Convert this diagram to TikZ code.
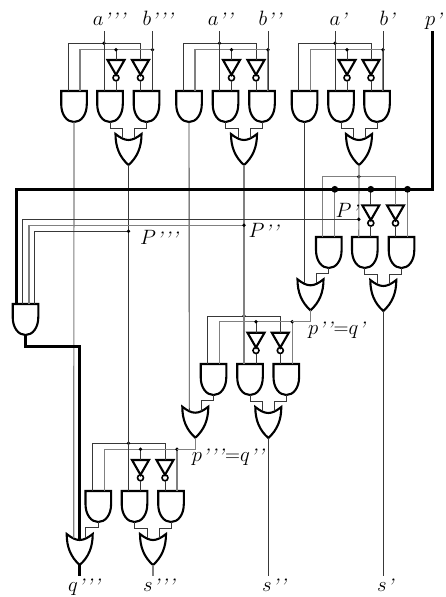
\documentclass[tikz,border=0pt]{standalone}
\usetikzlibrary{calc}
\newcommand{\pr}{\raisebox{-2.2pt}{\textit{'}}}
\tikzset{
  x=1pt,y=-1pt,
  wire/.style={draw=black!78,line width=0.9pt},
  wirel/.style={draw=black!50,line width=1.15pt},
  upw/.style={wire},
  buswire/.style={draw=black,line width=3pt,line join=miter},
  gateline/.style={draw=black,line width=2.1pt,line join=miter},
  jdot/.style={fill=black},
  lab/.style={anchor=base west,inner sep=0pt,font=\fontsize{21}{21}\selectfont},
  andg/.pic={
    \draw[gateline] (-12.8,0) -- (12.8,0) -- (12.8,13) .. controls (12.8,24) and (7,31) .. (0,31) .. controls (-7,31) and (-12.8,24) .. (-12.8,13) -- cycle;
    \coordinate (-l) at (-6,0);
    \coordinate (-r) at (6,0);
    \coordinate (-o) at (0,31);
    \coordinate (-p1) at (-8.8,0);
    \coordinate (-p2) at (-3.2,0);
    \coordinate (-p3) at (3.5,0);
    \coordinate (-p4) at (8.8,0);
  },
  org/.pic={
    \draw[gateline] (-13,0) .. controls (-8,4) and (-4,6) .. (0,6) .. controls (4,6) and (8,4) .. (13,0) .. controls (13,13) and (9,23) .. (0,31) .. controls (-9,23) and (-13,13) .. (-13,0) -- cycle;
    \coordinate (-l) at (-6,4);
    \coordinate (-r) at (6,4);
    \coordinate (-c) at (0,6);
    \coordinate (-o) at (0,31);
  },
  invg/.pic={
    \draw[gateline] (-8.5,0) -- (8.5,0) -- (0,14.8) -- cycle;
    \draw[draw=black,line width=1.6pt] (0,17.8) circle[radius=3];
    \coordinate (-t) at (0,0);
    \coordinate (-o) at (0,20.8);
  }
}
% name, and centres (3), or centre, upper bus y, lower bus y, inverter y, and y
\newcommand{\stage}[9]{
  \coordinate (#1u) at (0,#6);
  \coordinate (#1w) at (0,#7);
  \coordinate (#1y) at (0,#8);
  \pic (#1a) at (#2,#9) {andg};
  \pic (#1b) at (#3,#9) {andg};
  \pic (#1c) at (#4,#9) {andg};
  \pic (#1o) at ($(#5,#9)+(0,43)$) {org};
  \pic (#1i) at (#1b-r |- #1y) {invg};
  \pic (#1j) at (#1c-l |- #1y) {invg};
  \draw[upw] (#1a-l) |- (#1c-l |- #1u) -- (#1j-t);
  \draw[wirel] (#1a-r) |- (#1c-r |- #1w) -- (#1c-r);
  \draw[wire] (#1b-r |- #1w) -- (#1i-t);
  \draw[wire] (#1i-o) -- (#1b-r);
  \draw[wire] (#1j-o) -- (#1c-l);
  \draw[wire] (#1b-o) -- ++(0,6) -| (#1o-l);
  \draw[wire] (#1c-o) -- ++(0,6) -| (#1o-r);
  \fill[jdot] (#1b-l |- #1u) circle[radius=1.9];
  \fill[jdot] (#1b-r |- #1w) circle[radius=1.9];
  \fill[jdot] (#1c-r |- #1w) circle[radius=1.9];
}
\begin{document}
\begin{tikzpicture}
\useasboundingbox (0,0) rectangle (446,597);
\coordinate (top) at (0,31);
\coordinate (bot) at (0,576);
\coordinate (py1) at (0,219.3);
\coordinate (py2) at (0,225.3);
\coordinate (py3) at (0,231.3);
\coordinate (pin) at (432.3,31);
% stages
\stage{tc}{74}{110}{146.5}{128.5}{43.3}{49.7}{60}{91}
\stage{tb}{189}{225.5}{262}{244}{43.3}{49.7}{60}{91}
\stage{ta}{304.5}{341}{377}{359}{43.3}{49.7}{60}{91}
\begin{scope}[upw/.style={wirel}]
\stage{sa}{328.8}{364.8}{401.5}{383.3}{176.7}{189.3}{205.3}{237}
\end{scope}
\stage{sb}{213.5}{250}{286.3}{268.3}{316}{321.7}{332.7}{364}
\stage{sc}{98.3}{134.5}{171}{153}{443.3}{449.3}{460}{491}
% carry gates
\pic (ca) at (310.5,279.3) {org};
\pic (cb) at (195.3,406.7) {org};
\pic (cc) at (79.7,534) {org};
\pic (g) at (25.5,304) {andg};
% inputs of the top stages
\draw[wire] (tcb-l |- top) -- (tcb-l);
\draw[wire] (tcc-r |- top) -- (tcc-r);
\draw[wire] (tbb-l |- top) -- (tbb-l);
\draw[wire] (tbc-r |- top) -- (tbc-r);
\draw[wire] (tab-l |- top) -- (tab-l);
\draw[wire] (tac-r |- top) -- (tac-r);
% sum outputs of top stages into lower stages
\draw[wire] (tco-o) -- (scb-l);
\draw[wirel] (tbo-o) -- (sbb-l);
\draw[wirel] (tao-o) -- (sab-l);
% first AND outputs
\draw[wirel] (tca-o) -- (cc-l);
\draw[wire] (tba-o) -- (cb-l);
\draw[wire] (taa-o) -- (ca-l);
% lower stage first AND to carry OR
\draw[wire] (saa-o) -- ++(0,5.5) -| (ca-r);
\draw[wire] (sba-o) -- ++(0,5.5) -| (cb-r);
\draw[wire] (sca-o) -- ++(0,5.5) -| (cc-r);
% carry OR outputs into next stage
\draw[wirel] (ca-o) |- (sbc-r |- sbw);
\draw[wirel] (cb-o) |- (scc-r |- scw);
% final sums
\draw[wire] (sao-o) -- (sao-o |- bot);
\draw[wire] (sbo-o) -- (sbo-o |- bot);
\draw[wirel] (sco-o) -- (sco-o |- bot);
% P lines
\draw[wire] (g-p2) |- (sab-l |- py1);
\draw[wirel] (g-p3) |- (tbo-o |- py2);
\draw[wire] (g-p4) |- (tco-o |- py3);
\fill[jdot] (sab-l |- py1) circle[radius=1.9];
\fill[jdot] (tbo-o |- py2) circle[radius=1.9];
\fill[jdot] (tco-o |- py3) circle[radius=1.9];
% thick carry bus
\draw[buswire] (pin) |- (g-p1 |- saw) -- (g-p1);
\draw[buswire] (g-o) -- ++(0,11.5) -| (cc-c);
\draw[buswire] (cc-o) -- (cc-o |- bot);
\fill[jdot] (saa-r |- saw) circle[radius=3.4];
\fill[jdot] (sab-r |- saw) circle[radius=3.4];
\fill[jdot] (sac-r |- saw) circle[radius=3.4];
% labels
\node[lab] (la3) at (92.7,25.7) {$a$\pr\pr\pr};
\node[lab] (lb3) at (142.3,25.7) {$b$\pr\pr\pr};
\node[lab] (la2) at (207.7,25.7) {$a$\pr\pr};
\node[lab] (lb2) at (258.3,25.7) {$b$\pr\pr};
\node[lab] (la1) at (329.3,25.7) {$a$\pr};
\node[lab] (lb1) at (379.3,25.7) {$b$\pr};
\node[lab] (lp1) at (425,25.7) {$p$\pr};
\node[lab] (lP3) at (140,244) {$P$\pr\pr\pr};
\node[lab] (lP2) at (248.3,237.7) {$P$\pr\pr};
\node[lab] (lP1) at (335.5,217.7) {$P$\pr};
\node[lab] (lpq1) at (308,334) {$p$\pr\pr${=}q$\pr};
\node[lab] (lpq2) at (191.7,461) {$p$\pr\pr\pr${=}q$\pr\pr};
\node[lab] (lq3) at (68,591.5) {$q$\pr\pr\pr};
\node[lab] (ls3) at (143,591.5) {$s$\pr\pr\pr};
\node[lab] (ls2) at (262,591.5) {$s$\pr\pr};
\node[lab] (ls1) at (377,591.5) {$s$\pr};
\end{tikzpicture}
\end{document}
